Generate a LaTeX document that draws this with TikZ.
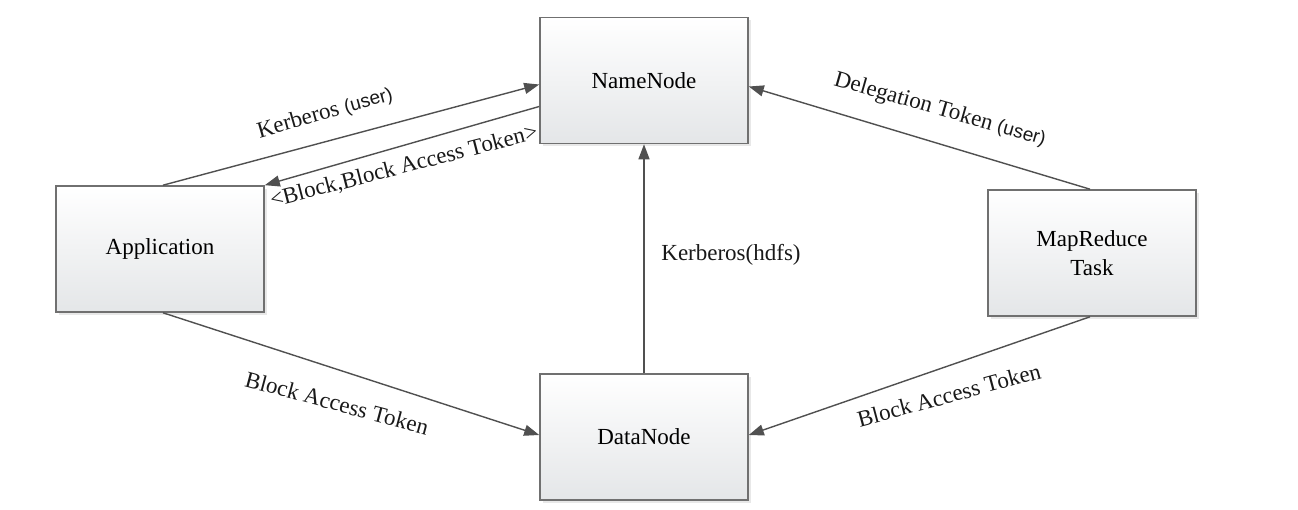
\documentclass[tikz,border=0pt]{standalone}
\usepackage{fontspec}
\setmainfont{Liberation Serif}
\newfontfamily\labsans{Liberation Sans}
\usetikzlibrary{arrows.meta,shadows,calc}
\definecolor{boxline}{HTML}{707070}
\definecolor{boxbottom}{HTML}{E4E6E8}
\definecolor{connline}{HTML}{505050}
\begin{document}
\begin{tikzpicture}[x=1pt,y=-1pt,
  box/.style={draw=boxline, line width=1.6pt, top color=white, bottom color=boxbottom,
    minimum width=208pt, minimum height=126pt, inner sep=0pt, align=center,
    font=\fontsize{23}{29}\selectfont,
    drop shadow={shadow xshift=3pt, shadow yshift=-3pt, fill=black!15, opacity=0.6}},
  conn/.style={draw=connline, line width=1.4pt, -{Triangle[length=15pt,width=11pt]}},
  lab/.style={font=\fontsize{23}{27}\selectfont, inner sep=0pt, text=black!90},
  usr/.style={}]
\useasboundingbox[fill=white] (0,0) rectangle (1298,510);

\node[box] (nn)  at (644,80.5) {NameNode};
\node[box] (app) at (160,249)  {Application};
\node[box] (mr)  at (1092,253) {MapReduce\\Task};
\node[box] (dn)  at (644,437)  {DataNode};

\draw[conn] ([xshift=3pt]app.north) -- ([yshift=-4pt]nn.west);
\draw[conn] ([yshift=-26pt]nn.west) -- (app.north east);
\draw[conn] (dn.north) -- (nn.south);
\draw[conn] ([xshift=-2pt]mr.north) -- ([yshift=-6pt]nn.east);
\draw[conn] ([xshift=3pt]app.south) -- ([yshift=2pt]dn.west);
\draw[conn] ([xshift=-2pt]mr.south) -- ([yshift=2pt]dn.east);

\node[lab, rotate=16]  (l1) at (325,113) {Kerberos {\labsans\fontsize{19}{19}\selectfont(user)}};
\node[lab, rotate=14.5] (l2) at (404,167) {<Block,Block Access Token>};
\node[lab]             (l3) at (731,255) {Kerberos(hdfs)};
\node[lab, rotate=-16] (l4) at (940,110) {Delegation Token {\labsans\fontsize{19}{19}\selectfont(user)}};
\node[lab, rotate=-15] (l5) at (337,403) {Block Access Token};
\node[lab, rotate=15]  (l6) at (949,395) {Block Access Token};
\end{tikzpicture}
\end{document}
